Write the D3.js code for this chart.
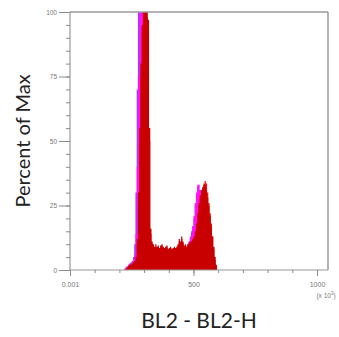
<!DOCTYPE html>
<html><head><meta charset="utf-8">
<script src="https://cdn.jsdelivr.net/npm/d3@7"></script>
<style>html,body{margin:0;padding:0;background:#fff;}svg{display:block;}</style>
</head><body>
<svg id="c" width="339" height="337"></svg>
<script>
// ---- data ----
const binEdges = d3.range(220, 605, 5); // BL2-H channel bins (start of each bin)
const seriesBlue = [0.5,1,1.5,2,2.5,3,3.5,5,10,30,70,100,100,100,100,95,80,50,20,10,9,8.5,8,8.5,8,8,8,8,8,8.5,8,8,8,8,8,7.5,8,8,7.5,8,8,8,8,8.5,9,9,9,9,8.5,9,9,10,11,13,15,17,20,25,29,32,31,28,25,21,18,15,12,9,6,3,1,0,0,0,0,0,0];
const seriesMagenta = [0.5,1,1.5,2,2,2.5,3,4,6,14,40,75,100,100,100,100,98,90,70,40,15,10,9,8.5,8.5,8.5,8.5,8.5,8,9,9,8.5,8,8.5,8.5,8,8,8.5,8,8,8.5,8,8.5,9,10,10,11,10,9,9,9,10,11,12,14,17,21,26,30,33,33,31,28,25,22,19,16,13,10,7,4,2,0,0,0,0,0];
const seriesRed = [0,0.5,1,1.5,2,2,2.5,3,3.5,4.5,10,26,50,76,92,99,99,99,98,94,50,14,10,9,8.5,9,8.5,9,8,9,9.5,8.5,8,8.5,9,7.5,8,8.5,7.5,8,8.5,8,8.5,9.5,11,10.5,12,10.5,9,9.5,8.5,9.5,10,10.5,10.5,11.5,12.5,14,17,21,25,28,30.5,32,33.5,34.5,33.5,30,26,22,18,13,8,4,1.5,0,0];
const seriesDarkRed = [0,0.5,1,1.5,2,2,2.5,3,3.5,5,12,30,55,80,95,100,100,100,100,97,55,16,11,10,9,10,9,9.5,8.5,9.5,10,9,8.5,9,9.5,8,8.5,9,8,8.5,9,8.5,9,10,12,11,13,11,9.5,10,9,10,10.5,11,11,12,13,15,18,22,26,29,31,32,33,33,31,28,25,21,17,13,9,5,2,0,0];
const yMajor = [0, 25, 50, 75, 100];
const yMinor = d3.range(0, 101, 5);
const xMajor = [0, 500, 1000];
const xMajorLabels = ["0.001", "500", "1000"];
const xMinor = d3.range(0, 1001, 100);
const seriesList = [
  {name: "blue", values: seriesBlue, color: "#8a45ff"},
  {name: "magenta", values: seriesMagenta, color: "#ff10ff"},
  {name: "red", values: seriesRed, color: "#ff1010"},
  {name: "darkred", values: seriesDarkRed, color: "#c80000"}
];

// ---- layout ----
const svg = d3.select("#c");
const L = 70, R = 328, T = 12, B = 270;
const x = d3.scaleLinear().domain([0, 1000]).range([L, 317]);
const y = d3.scaleLinear().domain([0, 100]).range([B, T]);

// histograms
const area = d3.area()
  .x((d, i) => x(binEdges[i]))
  .y0(y(0))
  .y1(d => y(d))
  .curve(d3.curveStepAfter);
svg.append("g").selectAll("path").data(seriesList).join("path")
  .attr("d", s => area(s.values))
  .attr("fill", s => s.color);

// frame
const frame = svg.append("g").attr("stroke", "#9a9a9a").attr("fill", "none");
frame.append("line").attr("x1", L).attr("x2", R).attr("y1", T).attr("y2", T).attr("stroke-width", 1.5);
frame.append("line").attr("x1", R).attr("x2", R).attr("y1", T).attr("y2", B).attr("stroke-width", 1.5);
frame.append("line").attr("x1", L).attr("x2", L).attr("y1", T).attr("y2", B).attr("stroke-width", 1.2);
frame.append("line").attr("x1", L).attr("x2", R).attr("y1", B).attr("y2", B).attr("stroke-width", 1.2);

// y axis ticks
const yAxisMinor = d3.axisLeft(y).tickValues(yMinor).tickSize(4).tickFormat("");
const gyMin = svg.append("g").attr("transform", `translate(${L},0)`).call(yAxisMinor);
const yAxisMajor = d3.axisLeft(y).tickValues(yMajor).tickSize(11).tickPadding(2).tickFormat(d3.format("d"));
const gy = svg.append("g").attr("transform", `translate(${L},0)`).call(yAxisMajor);
[gyMin, gy].forEach(g => {
  g.select(".domain").remove();
  g.selectAll("line").attr("stroke", "#8a8a8a");
});
gy.selectAll("text").attr("font-family", "Liberation Sans").attr("font-size", 6.5).attr("fill", "#777");

// x axis ticks
const xAxisMinor = d3.axisBottom(x).tickValues(xMinor).tickSize(3).tickFormat("");
const gxMin = svg.append("g").attr("transform", `translate(0,${B})`).call(xAxisMinor);
const xAxisMajor = d3.axisBottom(x).tickValues(xMajor).tickSize(6).tickPadding(6)
  .tickFormat((d, i) => xMajorLabels[i]);
const gx = svg.append("g").attr("transform", `translate(0,${B})`).call(xAxisMajor);
[gxMin, gx].forEach(g => {
  g.select(".domain").remove();
  g.selectAll("line").attr("stroke", "#8a8a8a");
});
gx.selectAll("text").attr("font-family", "Liberation Sans").attr("font-size", 7).attr("fill", "#777");

// (x 10^3)
const sc = svg.append("text").attr("x", 326).attr("y", 298).attr("text-anchor", "middle")
  .attr("font-family", "Liberation Sans").attr("font-size", 6.5).attr("fill", "#777");
sc.append("tspan").text("(x 10");
sc.append("tspan").attr("dy", -3).attr("font-size", 4.5).text("3");
sc.append("tspan").attr("dy", 3).text(")");

// titles
svg.append("text").attr("x", (L + R) / 2).attr("y", 328).attr("text-anchor", "middle")
  .attr("font-family", "Lato").attr("font-size", 21).attr("fill", "#222").text("BL2 - BL2-H");
svg.append("text").attr("transform", `translate(30,${(T + B) / 2}) rotate(-90)`).attr("text-anchor", "middle")
  .attr("font-family", "Lato").attr("font-size", 20).attr("fill", "#222").text("Percent of Max");
</script>
</body></html>
